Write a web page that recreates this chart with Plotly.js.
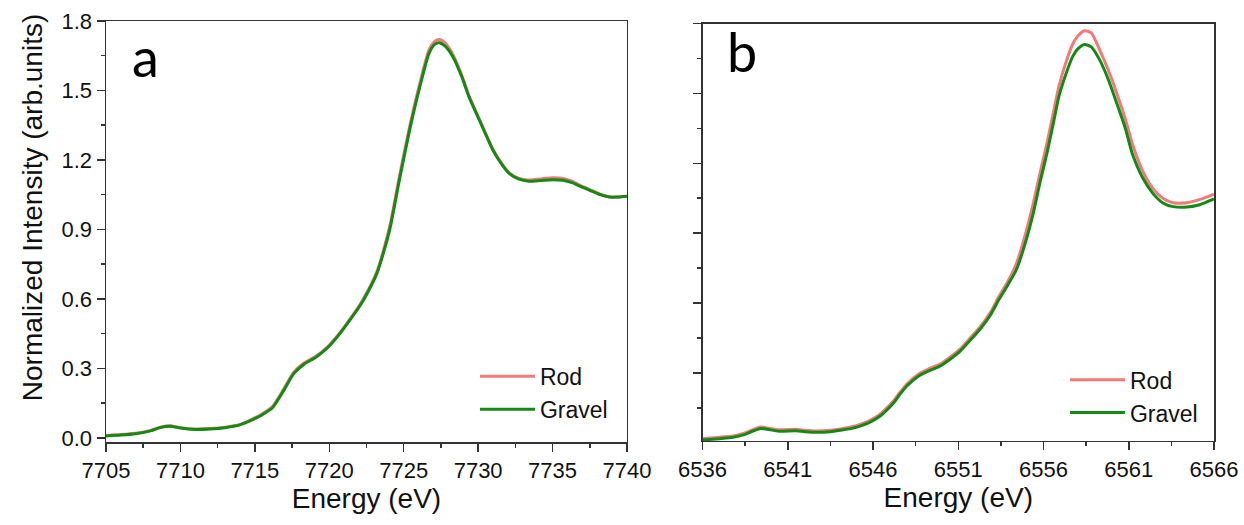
<!DOCTYPE html>
<html>
<head>
<meta charset="utf-8">
<script src="https://cdn.plot.ly/plotly-3.0.1.min.js"></script>
<style>html,body{margin:0;padding:0;background:#fff;}#chart{width:1244px;height:525px;}</style>
</head>
<body>
<div id="chart"></div>
<script>
// Panel a (energy, eV)
var energyA = [7705, 7706, 7707, 7708, 7708.7, 7709.3, 7710, 7711, 7712, 7713, 7714, 7714.7, 7715.5, 7716.2, 7716.9, 7717.6, 7718.3, 7719.1, 7719.9, 7720.7, 7721.4, 7722.0, 7722.6, 7723.2, 7723.6, 7724.1, 7724.7, 7725.4, 7726.1, 7726.7, 7727.1, 7727.4, 7727.8, 7728.3, 7728.9, 7729.4, 7730.1, 7731.0, 7731.6, 7732.1, 7732.7, 7733.4, 7734.2, 7735.0, 7735.7, 7736.3, 7736.9, 7737.5, 7738.2, 7738.8, 7739.4, 7740];
var rodA = [0.010, 0.014, 0.020, 0.032, 0.047, 0.052, 0.044, 0.038, 0.040, 0.046, 0.058, 0.077, 0.104, 0.136, 0.206, 0.282, 0.323, 0.352, 0.394, 0.453, 0.514, 0.569, 0.636, 0.718, 0.800, 0.925, 1.125, 1.345, 1.535, 1.675, 1.713, 1.720, 1.704, 1.656, 1.566, 1.475, 1.373, 1.245, 1.183, 1.144, 1.121, 1.113, 1.118, 1.123, 1.120, 1.108, 1.089, 1.072, 1.052, 1.041, 1.040, 1.043];
var gravelA = [0.008, 0.012, 0.018, 0.030, 0.045, 0.050, 0.042, 0.036, 0.038, 0.044, 0.056, 0.074, 0.100, 0.131, 0.200, 0.276, 0.318, 0.348, 0.390, 0.449, 0.510, 0.564, 0.630, 0.710, 0.790, 0.910, 1.110, 1.330, 1.520, 1.660, 1.700, 1.706, 1.690, 1.646, 1.560, 1.470, 1.370, 1.242, 1.180, 1.141, 1.118, 1.108, 1.111, 1.115, 1.112, 1.102, 1.085, 1.069, 1.050, 1.040, 1.040, 1.043];

// Panel b (energy, eV)
var energyB = [6536.0, 6537.0, 6537.8, 6538.4, 6539.0, 6539.4, 6539.8, 6540.5, 6541.5, 6542.0, 6542.7, 6543.5, 6544.1, 6544.7, 6545.2, 6545.8, 6546.4, 6546.8, 6547.2, 6547.6, 6548.0, 6548.7, 6549.3, 6549.9, 6550.5, 6551.1, 6551.7, 6552.3, 6552.9, 6553.4, 6553.9, 6554.4, 6554.9, 6555.4, 6555.8, 6556.2, 6556.6, 6556.9, 6557.3, 6557.7, 6558.0, 6558.4, 6558.8, 6559.3, 6559.8, 6560.3, 6560.8, 6561.2, 6561.8, 6562.4, 6563.0, 6563.6, 6564.4, 6565.1, 6565.6, 6566.0];
var rodB = [0.018, 0.024, 0.030, 0.040, 0.058, 0.068, 0.064, 0.056, 0.058, 0.054, 0.051, 0.054, 0.060, 0.068, 0.078, 0.096, 0.122, 0.149, 0.180, 0.219, 0.254, 0.297, 0.319, 0.337, 0.367, 0.402, 0.450, 0.500, 0.562, 0.630, 0.692, 0.768, 0.885, 1.029, 1.160, 1.286, 1.425, 1.530, 1.630, 1.710, 1.745, 1.769, 1.760, 1.686, 1.600, 1.500, 1.390, 1.286, 1.170, 1.093, 1.050, 1.031, 1.031, 1.043, 1.056, 1.068];
var gravelB = [0.012, 0.018, 0.024, 0.034, 0.052, 0.062, 0.058, 0.050, 0.052, 0.048, 0.045, 0.048, 0.054, 0.061, 0.071, 0.088, 0.114, 0.140, 0.171, 0.210, 0.245, 0.288, 0.310, 0.328, 0.358, 0.393, 0.440, 0.490, 0.550, 0.617, 0.677, 0.742, 0.850, 0.986, 1.120, 1.243, 1.380, 1.486, 1.580, 1.657, 1.690, 1.710, 1.700, 1.643, 1.560, 1.457, 1.350, 1.243, 1.140, 1.072, 1.030, 1.014, 1.012, 1.021, 1.035, 1.047];

var seriesNames = ['Rod', 'Gravel'];
var seriesColors = ['#F27A7A', '#148A14'];
var panelLabels = ['a', 'b'];
var xTitle = 'Energy (eV)';
var yTitle = 'Normalized Intensity (arb.units)';

var FONT = 'Liberation Sans, Arial, sans-serif';

var traces = [
  {x: energyA, y: rodA, name: seriesNames[0], xaxis: 'x', yaxis: 'y', legend: 'legend', mode: 'lines', line: {color: seriesColors[0], width: 3, shape: 'spline', smoothing: 0.6}},
  {x: energyA, y: gravelA, name: seriesNames[1], xaxis: 'x', yaxis: 'y', legend: 'legend', mode: 'lines', line: {color: seriesColors[1], width: 3, shape: 'spline', smoothing: 0.6}},
  {x: energyB, y: rodB, name: seriesNames[0], xaxis: 'x2', yaxis: 'y2', legend: 'legend2', mode: 'lines', line: {color: seriesColors[0], width: 3, shape: 'spline', smoothing: 0.6}},
  {x: energyB, y: gravelB, name: seriesNames[1], xaxis: 'x2', yaxis: 'y2', legend: 'legend2', mode: 'lines', line: {color: seriesColors[1], width: 3, shape: 'spline', smoothing: 0.6}}
];

var axisCommon = {
  showgrid: false, zeroline: false, showline: true, mirror: true,
  linecolor: '#333', linewidth: 1.5,
  ticks: 'outside', ticklen: 8, tickwidth: 1.5, tickcolor: '#333',
  tickfont: {family: FONT, size: 22, color: '#111'}
};

function ax(extra) { return Object.assign({}, JSON.parse(JSON.stringify(axisCommon)), extra); }
function minor(dt, t0) { return {ticks: 'outside', ticklen: 4, tickwidth: 1.5, tickcolor: '#333', dtick: dt, tick0: t0}; }

var legendCommon = {
  font: {family: FONT, size: 23, color: '#111'},
  bgcolor: 'rgba(0,0,0,0)', borderwidth: 0, itemwidth: 55,
  xanchor: 'left', yanchor: 'top', tracegroupgap: 0
};

var layout = {
  width: 1244, height: 525,
  margin: {l: 106, r: 30, t: 21, b: 83},
  paper_bgcolor: '#fff', plot_bgcolor: '#fff',
  font: {family: FONT, color: '#111'},
  showlegend: true,
  xaxis: ax({domain: [0, 0.4702], range: [7705, 7740], tick0: 7705, dtick: 5, anchor: 'y', minor: minor(2.5, 7705),
    title: {text: xTitle, font: {family: FONT, size: 28, color: '#111'}, standoff: 0}}),
  yaxis: ax({domain: [0, 1], range: [-0.018, 1.8], tick0: 0, dtick: 0.3, tickformat: '.1f', anchor: 'x', minor: minor(0.15, 0),
    title: {text: yTitle, font: {family: FONT, size: 28, color: '#111'}, standoff: 10}}),
  xaxis2: ax({domain: [0.5384, 1], range: [6536, 6566], tick0: 6536, dtick: 5, anchor: 'y2', minor: minor(2.5, 6536),
    title: {text: xTitle, font: {family: FONT, size: 28, color: '#111'}, standoff: 0}}),
  yaxis2: ax({domain: [0.0024, 0.994], range: [0.008, 1.8], tick0: 0, dtick: 0.3, anchor: 'x2', showticklabels: false, minor: minor(0.15, 0)}),
  legend: Object.assign({x: 0.3330, y: 0.207}, legendCommon),
  legend2: Object.assign({x: 0.8655, y: 0.199}, legendCommon),
  annotations: [
    {text: panelLabels[0], xref: 'paper', yref: 'paper', x: 0.0352, y: 0.915, xanchor: 'center', yanchor: 'middle', showarrow: false, font: {family: 'Lato, Open Sans, sans-serif', size: 54, color: '#000'}},
    {text: panelLabels[1], xref: 'paper', yref: 'paper', x: 0.574, y: 0.928, xanchor: 'center', yanchor: 'middle', showarrow: false, font: {family: 'Lato, Open Sans, sans-serif', size: 54, color: '#000'}}
  ]
};

function tweak() {
  document.querySelectorAll('.legendlines path').forEach(function (p) {
    p.setAttribute('d', 'M5,0h55');
  });
  document.querySelectorAll('.g-ytitle').forEach(function (g) {
    g.setAttribute('transform', 'translate(0,-24)');
  });
}

Plotly.newPlot('chart', traces, layout, {staticPlot: true, displayModeBar: false}).then(function () {
  tweak();
  setTimeout(tweak, 50);
  setTimeout(tweak, 300);
});
</script>
</body>
</html>
